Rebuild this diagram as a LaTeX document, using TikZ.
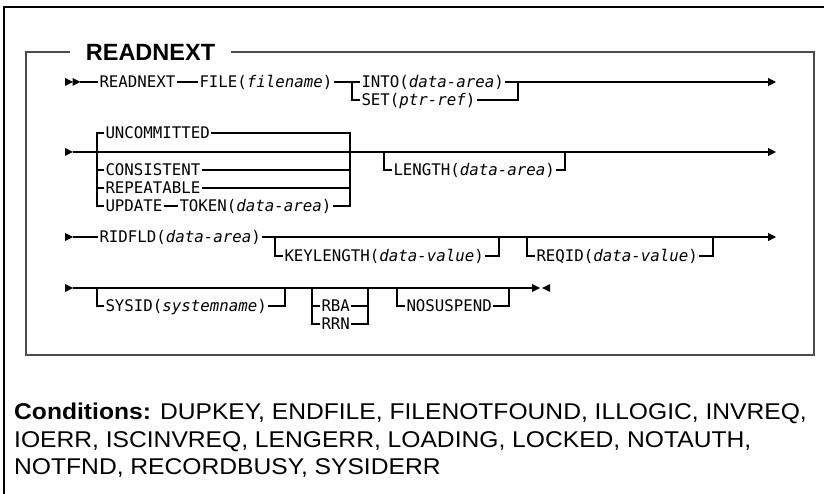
\documentclass[tikz,border=0pt]{standalone}
\usepackage{fontspec}
\setmainfont{Liberation Sans}
\newfontfamily\railfont{DejaVu Sans Mono}[FakeStretch=0.985]
\newfontfamily\condfont{Liberation Sans}[FakeStretch=1.08]
\usetikzlibrary{arrows.meta,positioning}

% filled marker triangles for the rails
\newcommand{\rtri}[2]{\fill (#1,#2-4) -- (#1+8,#2) -- (#1,#2+4) -- cycle;}
\newcommand{\ltri}[2]{\fill (#1,#2) -- (#1+8,#2-4) -- (#1+8,#2+4) -- cycle;}

\begin{document}
\begin{tikzpicture}[
  x=1pt, y=-1pt,
  kw/.style={font=\railfont\fontsize{16}{16}\selectfont, anchor=west,
    inner xsep=1.5pt, inner ysep=0pt, outer sep=0pt,
    text height=11.6pt, text depth=0pt},
  rail/.style={line width=1.1pt},
  go/.style={rail, -{Triangle[length=8pt,width=8pt]}},
  frm/.style={line width=2pt, draw=black!70}
]
\useasboundingbox (0,0) rectangle (824,494);

% frames
\draw[line width=1.2pt] (824,7) -- (4,7) -- (4,494);
\draw[frm] (26,52) rectangle (814,355);
\node[fill=white, inner xsep=16pt, inner ysep=2pt,
  font=\bfseries\fontsize{23.5}{23.5}\selectfont] (title) at (150.5,52) {READNEXT};

% row 1
\rtri{65}{82}\rtri{72.5}{82}
\coordinate (r1s) at (80,82);
\node[kw] (readnext) at (98,82) {READNEXT};
\node[kw] (file) at (198,82) {FILE(\textit{filename})};
\coordinate (r1a) at (352,82);
\node[kw] (into) at (360,82) {INTO(\textit{data-area})};
\node[kw] (setptr) at (360,100) {SET(\textit{ptr-ref})};
\coordinate (r1b) at (518,82);
\coordinate (r1e) at (776,82);
\draw[go] (r1s) -- (readnext) -- (file) -- (into) -- (r1e);
\draw[rail] (r1a) |- (setptr) -| (r1b);

% row 2
\rtri{65}{152}
\coordinate (r2s) at (73,152);
\coordinate (r2a) at (97,152);
\coordinate (r2b) at (350,152);
\node[kw] (uncom) at (104,133) {UNCOMMITTED};
\node[kw] (consist) at (104,170) {CONSISTENT};
\node[kw] (repeat) at (104,188) {REPEATABLE};
\node[kw] (update) at (104,206) {UPDATE};
\node[kw] (token) at (178,206) {TOKEN(\textit{data-area})};
\coordinate (r2c) at (384,152);
\node[kw] (length) at (392,170) {LENGTH(\textit{data-area})};
\coordinate (r2d) at (565,152);
\coordinate (r2e) at (776,152);
\draw[go] (r2s) -- (r2e);
\draw[rail] (r2a) |- (uncom) -| (r2b);
\foreach \n in {consist,repeat}
  \draw[rail] (r2a) |- (\n) -| (r2b);
\draw[rail] (r2a) |- (update) -- (token) -| (r2b);
\draw[rail] (r2c) |- (length) -| (r2d);

% row 3
\rtri{65}{237}
\coordinate (r3s) at (73,237);
\node[kw] (ridfld) at (98,237) {RIDFLD(\textit{data-area})};
\coordinate (r3a) at (275,237);
\node[kw] (keylen) at (283,256) {KEYLENGTH(\textit{data-value})};
\coordinate (r3b) at (499,237);
\coordinate (r3c) at (527,237);
\node[kw] (reqid) at (535,256) {REQID(\textit{data-value})};
\coordinate (r3d) at (713,237);
\coordinate (r3e) at (776,237);
\draw[go] (r3s) -- (ridfld) -- (r3e);
\draw[rail] (r3a) |- (keylen) -| (r3b);
\draw[rail] (r3c) |- (reqid) -| (r3d);

% row 4
\rtri{65}{288}
\coordinate (r4s) at (73,288);
\coordinate (r4a) at (97,288);
\node[kw] (sysid) at (104,306) {SYSID(\textit{systemname})};
\coordinate (r4b) at (285,288);
\coordinate (r4c) at (312,288);
\node[kw] (rba) at (320,306) {RBA};
\node[kw] (rrn) at (320,324) {RRN};
\coordinate (r4d) at (368,288);
\coordinate (r4f) at (397,288);
\node[kw] (nosusp) at (405,306) {NOSUSPEND};
\coordinate (r4g) at (509,288);
\coordinate (r4e) at (532,288);
\draw[rail] (r4s) -- (r4e);
\draw[rail] (r4a) |- (sysid) -| (r4b);
\draw[rail] (r4c) |- (rba) -| (r4d);
\draw[rail] (r4c) |- (rrn) -| (r4d);
\draw[rail] (r4f) |- (nosusp) -| (r4g);
\rtri{532}{288}\ltri{542}{288}

% conditions
\node[anchor=north west, align=left, inner sep=0pt,
  font=\condfont\fontsize{22.8}{27.5}\selectfont] (cond) at (14,403)
  {\textbf{Conditions:} DUPKEY, ENDFILE, FILENOTFOUND, ILLOGIC, INVREQ,\\
   IOERR, ISCINVREQ, LENGERR, LOADING, LOCKED, NOTAUTH,\\
   NOTFND, RECORDBUSY, SYSIDERR};
\end{tikzpicture}
\end{document}
